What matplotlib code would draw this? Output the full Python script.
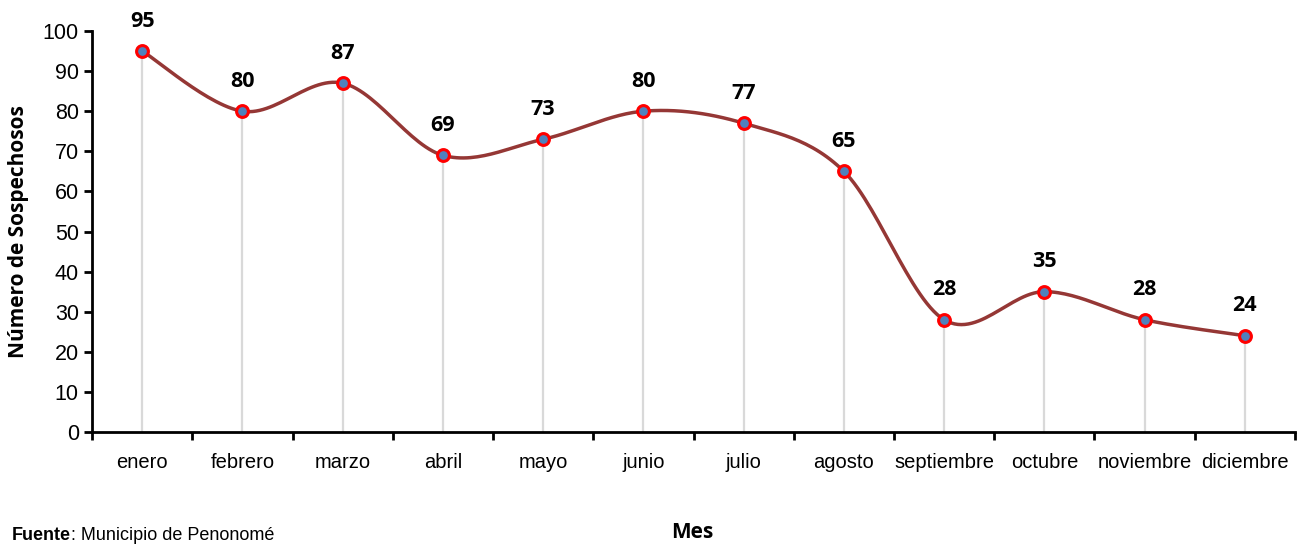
import matplotlib
matplotlib.use("Agg")
import matplotlib.pyplot as plt
import numpy as np

meses = ["enero", "febrero", "marzo", "abril", "mayo", "junio", "julio",
         "agosto", "septiembre", "octubre", "noviembre", "diciembre"]
sospechosos = [95, 80, 87, 69, 73, 80, 77, 65, 28, 35, 28, 24]

narrow = ["Liberation Sans Narrow", "Liberation Sans", "DejaVu Sans"]
bold_font = ["Open Sans", "DejaVu Sans"]


def excel_smooth(x, y, steps=30):
    # bezier smoothing similar to spreadsheet "smoothed line"
    x = np.asarray(x, float)
    y = np.asarray(y, float)
    px, py = [x[0]], [y[0]]
    n = len(x)
    for i in range(n - 1):
        x0, y0 = (x[i - 1], y[i - 1]) if i > 0 else (x[i], y[i])
        x3, y3 = (x[i + 2], y[i + 2]) if i + 2 < n else (x[i + 1], y[i + 1])
        c1x = x[i] + (x[i + 1] - x0) / 6
        c1y = y[i] + (y[i + 1] - y0) / 6
        c2x = x[i + 1] - (x3 - x[i]) / 6
        c2y = y[i + 1] - (y3 - y[i]) / 6
        t = np.linspace(0, 1, steps)[1:]
        bx = (1 - t) ** 3 * x[i] + 3 * (1 - t) ** 2 * t * c1x + 3 * (1 - t) * t ** 2 * c2x + t ** 3 * x[i + 1]
        by = (1 - t) ** 3 * y[i] + 3 * (1 - t) ** 2 * t * c1y + 3 * (1 - t) * t ** 2 * c2y + t ** 3 * y[i + 1]
        px.extend(bx)
        py.extend(by)
    return px, py


fig = plt.figure(figsize=(13.02, 5.46), dpi=100)
ax = fig.add_axes([0.0707, 0.2088, 0.9239, 0.7344])

x = np.arange(len(meses))

# drop lines
ax.vlines(x, 0, sospechosos, color="#d9d9d9", linewidth=1.6, zorder=1)

sx, sy = excel_smooth(x, sospechosos)
ax.plot(sx, sy, color="#953735", linewidth=2.5, zorder=2)
ax.plot(x, sospechosos, linestyle="none", marker="o", markersize=8.5,
        markerfacecolor="#4f81bd", markeredgecolor="#ff0000",
        markeredgewidth=2.2, zorder=3)

for xi, v in zip(x, sospechosos):
    ax.annotate(str(v), (xi, v), xytext=(0, 14), textcoords="offset points",
                ha="center", va="bottom", fontsize=15.5, fontweight="bold",
                family=bold_font)

ax.set_xlim(-0.5, len(meses) - 0.5)
ax.set_ylim(0, 100)
ax.set_yticks(range(0, 101, 10))
ax.set_xticks(x)
ax.set_xticklabels(meses, family=narrow, fontsize=14.5)
ax.set_xticks(np.arange(-0.5, len(meses), 1), minor=True)
ax.tick_params(axis="x", which="major", length=0, pad=15)
ax.tick_params(axis="x", which="minor", length=6, width=2, direction="out")
ax.tick_params(axis="y", length=6, width=2, direction="out", labelsize=15.5)
for lab in ax.get_yticklabels():
    lab.set_family(narrow)

for s in ["top", "right"]:
    ax.spines[s].set_visible(False)
ax.spines["left"].set_linewidth(2)
ax.spines["bottom"].set_linewidth(2)

ax.set_ylabel("Número de Sospechosos", fontsize=15, fontweight="bold",
              family=bold_font, labelpad=10)

fig.text(0.5315, 0.005, "Mes", ha="center", va="bottom", fontsize=15,
         fontweight="bold", family=bold_font)
t1 = fig.text(0.009, 0.004, "Fuente", ha="left", va="bottom", fontsize=13,
              fontweight="bold", family=narrow)
fig.canvas.draw()
bb = t1.get_window_extent()
fig.text(bb.x1 / fig.bbox.width, 0.004, ": Municipio de Penonomé", ha="left",
         va="bottom", fontsize=13, family=narrow)

fig.savefig("out.png", dpi=100)
